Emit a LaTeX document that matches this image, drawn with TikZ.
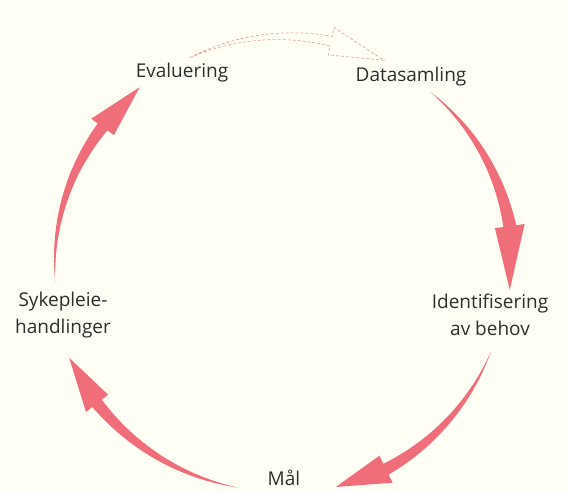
\documentclass[tikz,border=0pt]{standalone}
\usepackage{fontspec}
\setmainfont{Open Sans}
\definecolor{bg}{HTML}{FFFFF6}
\definecolor{arr}{HTML}{EF6E7A}
\definecolor{dash}{HTML}{E49A96}
\definecolor{txt}{HTML}{2E2E2E}
% #1 start angle, #2 head-base angle, #3 tip angle, #4 start radius, #5 end radius, #6 half shaft width, #7 half head width
\newcommand{\tarr}[7]{%
  plot[domain=0:1,samples=40] ({#1+(#2-#1)*\x}:{#4+(#5-#4)*\x+#6*\x})
  -- (#2:{#5+#7}) -- (#3:{#5}) -- (#2:{#5-#7})
  -- plot[domain=0:1,samples=40] ({#1+(#2-#1)*(1-\x)}:{#4+(#5-#4)*(1-\x)-#6*(1-\x)}) -- cycle}
\begin{document}
\begin{tikzpicture}[x=1pt,y=1pt,
  lbl/.style={text=txt,font=\fontsize{19}{27}\selectfont,align=center,inner sep=0pt},
  cyc/.style={fill=arr,draw=none},
  dsh/.style={draw=dash,line width=0.6pt,dash pattern=on 3pt off 2pt,fill=bg}]
\fill[bg] (0,0) rectangle (568,492);
\useasboundingbox (0,0) rectangle (568,492);
\coordinate (C) at (283,234);
\node[lbl] (eva) at (182,419) {Evaluering};
\node[lbl] (dat) at (411,415) {Datasamling};
\node[lbl] (ide) at (490,177) {Identifisering\\av behov};
\node[lbl,anchor=base] (mal) at (284,6) {Mål};
\node[lbl] (syk) at (63,177) {Sykepleie-\\handlinger};
\begin{scope}[shift={(C)}]
  \path[cyc] \tarr{48.5}{8}{-8}{222}{229}{6.5}{15};
  \path[cyc] \tarr{-24}{-64}{-77}{228}{235}{6}{15};
  \path[cyc] \tarr{-101}{-142}{-155}{234}{236}{6}{14};
  \path[cyc] \tarr{186}{144}{130}{229}{223}{6}{14};
  \path[dsh] \tarr{115}{77.5}{63}{221}{222}{5}{14};
\end{scope}
\end{tikzpicture}
\end{document}
